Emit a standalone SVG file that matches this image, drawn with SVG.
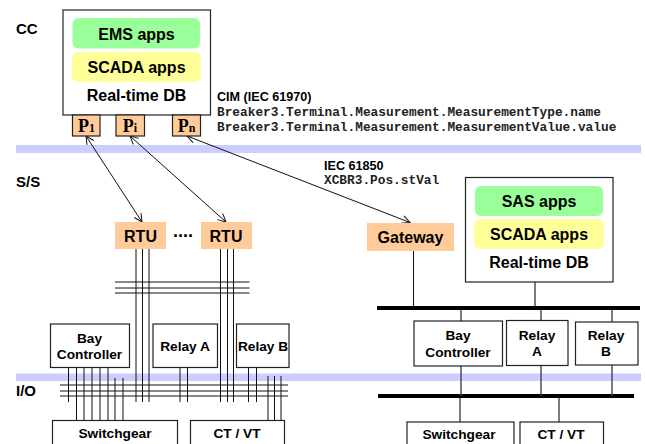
<svg xmlns="http://www.w3.org/2000/svg" width="645" height="444" viewBox="0 0 645 444">
<style>
text{font-family:"Liberation Sans",Arial,sans-serif;font-weight:700;fill:#000;text-anchor:middle}
.l{text-anchor:start;font-size:15px}
.t15{font-size:16px}
.t13{font-size:13.7px}
.cap{text-anchor:start;font-size:12.6px}
.m{font-family:"Liberation Mono","Courier New",monospace;font-size:12.8px;text-anchor:start;fill:#222}
.p{font-family:"Liberation Serif","Times New Roman",serif;font-size:18px}
.p tspan{font-size:12px}
.box{fill:#fff;stroke:#222;stroke-width:1.2}
.pb{fill:#ffcc99;stroke:#222;stroke-width:1.2}
.or{fill:#ffcc99}
.gr{fill:#99ff99}
.ye{fill:#ffff99}
.band{fill:#ccccff}
#connectors line,#connectors path{stroke:#111;stroke-width:1;fill:none}
#connectors .g{stroke:#444;stroke-width:1.4}
#connectors .bus{stroke:#000;stroke-width:4}
</style>
<defs>
<marker id="a" viewBox="0 0 12 12" refX="11" refY="6" markerWidth="12" markerHeight="12" markerUnits="userSpaceOnUse" orient="auto-start-reverse"><path d="M3 2L11 6L3 10" fill="none" stroke="#111" stroke-width="1"/></marker>
</defs>
<rect class="band" x="16" y="145" width="625" height="8"/>
<rect class="band" x="16" y="373.5" width="625" height="7.5"/>
<g id="connectors">
<line x1="86" y1="136" x2="142" y2="222" marker-start="url(#a)" marker-end="url(#a)"/>
<line x1="130" y1="136" x2="226" y2="222" marker-start="url(#a)" marker-end="url(#a)"/>
<line x1="187" y1="136" x2="410" y2="222.500" marker-start="url(#a)" marker-end="url(#a)"/>
<path d="M136 249V402M142.500 249V402M149 249V402M220.500 249V402M227.500 249V402M233.500 249V402"/>
<path d="M115 282H249.500M115 288H249.500M115 293H249.500"/>
<path d="M60 385H288M60 391H288M60 396H288"/>
<path d="M68.500 367V402M76.500 367V420.500M84 367V420.500M92 367V420.500M100 367V420.500M108 367V420.500M115 378V420.500M123 378V420.500"/>
<path d="M180 367V402M187.500 367V402M248.500 367V402M256.500 367V402M268 376V421M274.500 376V421M281 376V421"/>
<line x1="413.500" y1="251" x2="413.500" y2="308"/>
<line class="g" x1="535" y1="282" x2="535" y2="308"/>
<line class="bus" x1="377" y1="308" x2="640" y2="308"/>
<line class="bus" x1="378" y1="396" x2="634" y2="396"/>
<path class="g" d="M461 310V321M541 310V320.500M612 310V322M461 366V396M541 365.500V396M612 365V396M460 398V422M559 398V422"/>
</g>
<g id="cc-system">
<rect class="box" x="63" y="10" width="147.500" height="105"/>
<rect class="gr" x="72.500" y="18" width="127.500" height="30.500" rx="6"/>
<text class="t15" x="136.500" y="40">EMS apps</text>
<rect class="ye" x="72" y="52" width="129" height="30" rx="6"/>
<text class="t15" x="136.500" y="73">SCADA apps</text>
<text class="t15" x="136.500" y="101">Real-time DB</text>
</g>
<g id="p1"><rect class="pb" x="72.500" y="115" width="27.500" height="21"/><text class="p" x="86.500" y="132">P<tspan>1</tspan></text></g>
<g id="pi"><rect class="pb" x="116" y="115" width="28.500" height="21"/><text class="p" x="130" y="132">P<tspan>i</tspan></text></g>
<g id="pn"><rect class="pb" x="172.500" y="115" width="28" height="21"/><text class="p" x="186.500" y="132">P<tspan>n</tspan></text></g>
<g id="rtu1"><rect class="or" x="115" y="222" width="51" height="27"/><text class="t15" x="140.500" y="242">RTU</text></g>
<g id="dots"><text x="183" y="237" font-size="18">....</text></g>
<g id="rtu2"><rect class="or" x="201" y="222" width="51" height="27"/><text class="t15" x="226" y="242">RTU</text></g>
<g id="gateway"><rect class="or" x="367" y="223" width="87" height="28"/><text class="t15" x="410.500" y="243">Gateway</text></g>
<g id="sas-system">
<rect class="box" x="465.500" y="177.500" width="147.500" height="104.500"/>
<rect class="gr" x="475" y="186" width="128" height="30" rx="6"/>
<text class="t15" x="539" y="207">SAS apps</text>
<rect class="ye" x="474" y="219" width="130" height="30" rx="6"/>
<text class="t15" x="539" y="240">SCADA apps</text>
<text class="t15" x="539" y="268">Real-time DB</text>
</g>
<g id="bay-left"><rect class="box" x="50.500" y="324" width="79" height="43.500"/><text class="t13" x="89.500" y="343">Bay</text><text class="t13" x="89.500" y="359">Controller</text></g>
<g id="relay-a-left"><rect class="box" x="153" y="324" width="64.500" height="43.500"/><text class="t13" x="185" y="351">Relay A</text></g>
<g id="relay-b-left"><rect class="box" x="236.500" y="324" width="52.500" height="43.500"/><text class="t13" x="263" y="351">Relay B</text></g>
<g id="switchgear-left"><rect class="box" x="52.500" y="420.500" width="125" height="30"/><text class="t13" x="115" y="438">Switchgear</text></g>
<g id="ctvt-left"><rect class="box" x="190.500" y="420.500" width="94" height="30"/><text class="t13" x="237" y="438">CT / VT</text></g>
<g id="bay-right"><rect class="box" x="414" y="321" width="88.500" height="45"/><text class="t13" x="458" y="340">Bay</text><text class="t13" x="458" y="357">Controller</text></g>
<g id="relay-a-right"><rect class="box" x="506.500" y="320.500" width="61.500" height="45"/><text class="t13" x="537" y="340">Relay</text><text class="t13" x="537" y="356">A</text></g>
<g id="relay-b-right"><rect class="box" x="575.500" y="322" width="62.500" height="43"/><text class="t13" x="606" y="340">Relay</text><text class="t13" x="606" y="356">B</text></g>
<g id="switchgear-right"><rect class="box" x="407" y="422" width="107" height="30"/><text class="t13" x="459" y="439">Switchgear</text></g>
<g id="ctvt-right"><rect class="box" x="520" y="422" width="83.500" height="30"/><text class="t13" x="561" y="439">CT / VT</text></g>
<text class="l" x="16" y="34">CC</text>
<text class="l" x="16" y="187">S/S</text>
<text class="l" x="16" y="396">I/O</text>
<text class="cap" x="217" y="101">CIM (IEC 61970)</text>
<text class="m" x="217" y="116">Breaker3.Terminal.Measurement.MeasurementType.name</text>
<text class="m" x="217" y="131">Breaker3.Terminal.Measurement.MeasurementValue.value</text>
<text class="cap" x="324" y="170">IEC 61850</text>
<text class="m" x="324" y="184">XCBR3.Pos.stVal</text>
</svg>
